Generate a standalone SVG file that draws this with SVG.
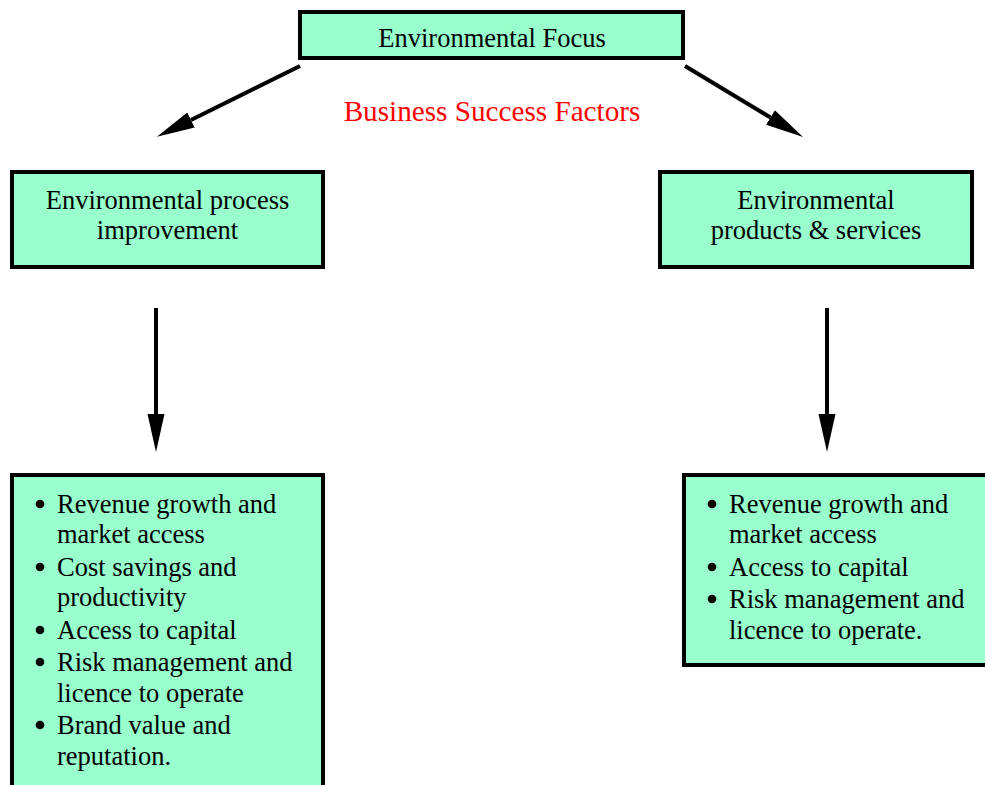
<svg xmlns="http://www.w3.org/2000/svg" width="985" height="785" viewBox="0 0 985 785">
<style>
.box{fill:#99FFCC;stroke:#000;stroke-width:4}
.t{font-family:"Liberation Serif","Times New Roman",serif;font-size:26.5px;fill:#000}
.c{text-anchor:middle}
.red{font-family:"Liberation Serif","Times New Roman",serif;font-size:29.2px;fill:#FF0000;text-anchor:middle}
.conn{stroke:#000;stroke-width:4;fill:none;marker-end:url(#ah)}
.dot{fill:#000}
</style>
<defs>
<marker id="ah" markerUnits="userSpaceOnUse" markerWidth="40" markerHeight="20" refX="0" refY="8.5" orient="auto" viewBox="0 0 40 17">
<path d="M0,0 L38,8.5 L0,17 z" fill="#000"/>
</marker>
</defs>
<rect width="985" height="785" fill="#fff"/>
<g id="connectors">
<line class="conn" x1="300" y1="66" x2="191" y2="120"/>
<line class="conn" x1="685" y1="66" x2="770.5" y2="117.5"/>
<line class="conn" x1="156" y1="308" x2="156" y2="414"/>
<line class="conn" x1="827" y1="308" x2="827" y2="414"/>
</g>
<g id="focus">
<rect class="box" x="300" y="12" width="383" height="46"/>
<text class="t c" x="492" y="47">Environmental Focus</text>
</g>
<g id="title">
<text class="red" x="492" y="121">Business Success Factors</text>
</g>
<g id="process">
<rect class="box" x="12" y="172" width="311" height="95"/>
<text class="t c" x="167.5" y="209">Environmental process</text>
<text class="t c" x="167.5" y="239">improvement</text>
</g>
<g id="products">
<rect class="box" x="660" y="172" width="312" height="95"/>
<text class="t c" x="816" y="209">Environmental</text>
<text class="t c" x="816" y="239">products &amp; services</text>
</g>
<g id="process-factors">
<rect class="box" x="12" y="475" width="311" height="330"/>
<circle class="dot" cx="40" cy="504" r="4.3"/>
<circle class="dot" cx="40" cy="567" r="4.3"/>
<circle class="dot" cx="40" cy="630" r="4.3"/>
<circle class="dot" cx="40" cy="662" r="4.3"/>
<circle class="dot" cx="40" cy="725" r="4.3"/>
<text class="t" x="57" y="513">Revenue growth and</text>
<text class="t" x="57" y="543">market access</text>
<text class="t" x="57" y="576">Cost savings and</text>
<text class="t" x="57" y="606">productivity</text>
<text class="t" x="57" y="639">Access to capital</text>
<text class="t" x="57" y="671">Risk management and</text>
<text class="t" x="57" y="702">licence to operate</text>
<text class="t" x="57" y="734">Brand value and</text>
<text class="t" x="57" y="765">reputation.</text>
</g>
<g id="products-factors">
<rect class="box" x="684" y="475" width="305" height="190"/>
<circle class="dot" cx="712" cy="504" r="4.3"/>
<circle class="dot" cx="712" cy="567" r="4.3"/>
<circle class="dot" cx="712" cy="599" r="4.3"/>
<text class="t" x="729" y="513">Revenue growth and</text>
<text class="t" x="729" y="543">market access</text>
<text class="t" x="729" y="576">Access to capital</text>
<text class="t" x="729" y="608">Risk management and</text>
<text class="t" x="729" y="639">licence to operate.</text>
</g>
</svg>
